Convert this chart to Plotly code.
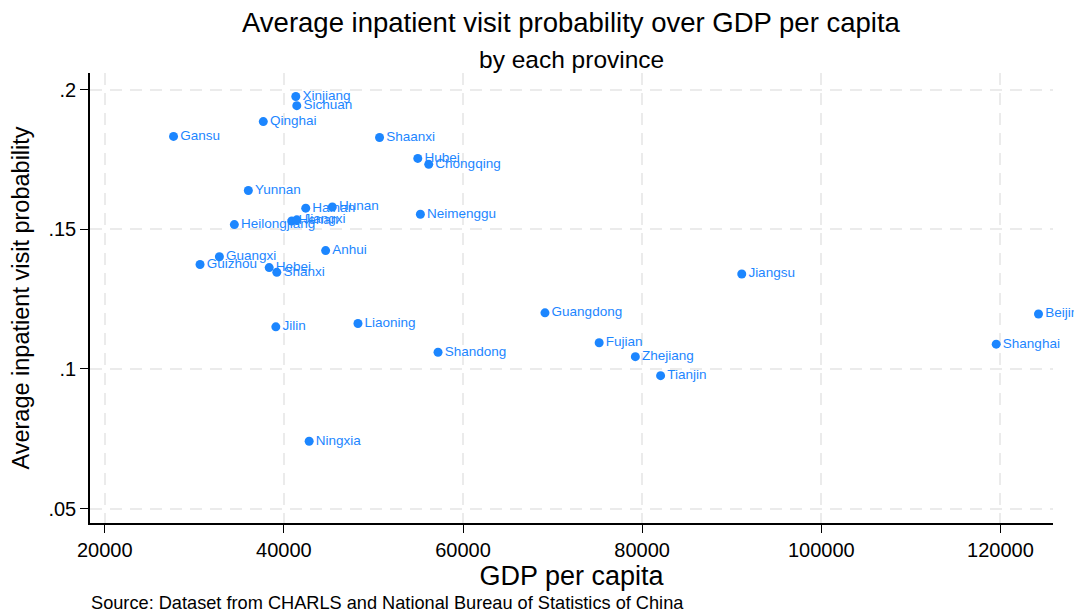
import plotly.graph_objects as go

provinces = ["Xinjiang", "Sichuan", "Qinghai", "Gansu", "Shaanxi", "Hubei", "Chongqing",
             "Yunnan", "Hainan", "Hunan", "Henan", "Jiangxi", "Heilongjiang", "Neimenggu",
             "Anhui", "Guangxi", "Guizhou", "Hebei", "Shanxi", "Jiangsu", "Beijing",
             "Shanghai", "Guangdong", "Fujian", "Zhejiang", "Tianjin", "Jilin", "Liaoning",
             "Shandong", "Ningxia"]
gdp_per_capita = [41330, 41440, 37700, 27680, 50680, 54950, 56170,
                  36030, 42440, 45410, 40880, 41440, 34470, 55240,
                  44660, 32800, 30640, 38360, 39210, 91120, 124250,
                  119530, 69150, 75200, 79240, 82060, 39100, 48270,
                  57210, 42820]
inpatient_prob = [0.1976, 0.1943, 0.1886, 0.1833, 0.1829, 0.1754, 0.1733,
                  0.1639, 0.1576, 0.1580, 0.1530, 0.1534, 0.1517, 0.1554,
                  0.1424, 0.1402, 0.1374, 0.1363, 0.1346, 0.1340, 0.1197,
                  0.1089, 0.1201, 0.1094, 0.1044, 0.0976, 0.1151, 0.1163,
                  0.1060, 0.0741]

x_ticks = [20000, 40000, 60000, 80000, 100000, 120000]
y_ticks = [0.05, 0.10, 0.15, 0.20]
y_ticklabels = [".05", ".1", ".15", ".2"]

blue = "#1c86ff"
font_main = "Liberation Sans, Arial, sans-serif"

fig = go.Figure()
fig.add_trace(go.Scatter(
    x=gdp_per_capita, y=inpatient_prob, mode="markers+text",
    text=provinces, textposition="middle right",
    textfont=dict(color=blue, size=13.5, family=font_main),
    marker=dict(color=blue, size=9, line=dict(width=0)),
    cliponaxis=False, showlegend=False,
))

grid = dict(showgrid=True, gridcolor="#ebebeb", griddash="12px,8px", gridwidth=1.8)

fig.update_layout(
    width=1074, height=606,
    paper_bgcolor="white", plot_bgcolor="white",
    margin=dict(l=79, r=29, t=65, b=91),
    font=dict(family=font_main, color="black"),
    xaxis=dict(range=[18353, 125869], tickvals=x_ticks, ticktext=[str(v) for v in x_ticks],
               showline=True, linecolor="black", linewidth=1.5, ticks="outside", ticklen=8,
               tickcolor="black", tickwidth=1.2, mirror=False,
               zeroline=False, tickfont=dict(size=20, color="black"),
               title=dict(text="GDP per capita", font=dict(size=27, color="black"), standoff=3),
               **grid),
    yaxis=dict(range=[0.04484, 0.206], tickvals=y_ticks, ticktext=y_ticklabels,
               showline=True, linecolor="black", linewidth=1.5, ticks="outside", ticklen=8,
               tickcolor="black", tickwidth=1.2,
               zeroline=False, tickfont=dict(size=20, color="black"),
               title=dict(text="Average inpatient visit probability", font=dict(size=23.5, color="black"), standoff=12),
               **grid),
    annotations=[
        dict(text="Average inpatient visit probability over GDP per capita", xref="paper", yref="paper",
             x=0.5, y=1.113, xanchor="center", yanchor="middle", showarrow=False,
             font=dict(size=27.5, color="black")),
        dict(text="by each province", xref="paper", yref="paper",
             x=0.5, y=1.029, xanchor="center", yanchor="middle", showarrow=False,
             font=dict(size=24.5, color="black")),
        dict(text="Source: Dataset from CHARLS and National Bureau of Statistics of China", xref="paper", yref="paper",
             x=-0.001, y=-0.178, xanchor="left", yanchor="middle", showarrow=False,
             font=dict(size=18.2, color="black")),
    ],
)

fig.write_html("out.html")
